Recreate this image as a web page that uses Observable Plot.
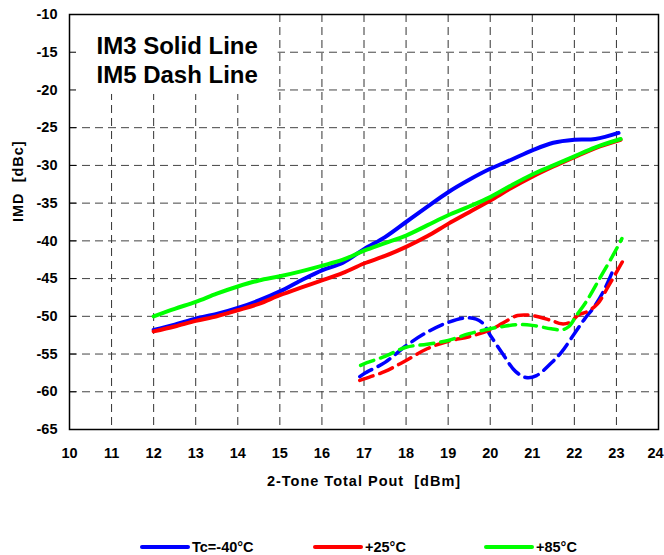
<!DOCTYPE html>
<html>
<head>
<meta charset="utf-8">
<script src="https://cdn.jsdelivr.net/npm/d3@7"></script>
<script src="https://cdn.jsdelivr.net/npm/@observablehq/plot@0.6"></script>
<style>
  html, body { margin: 0; padding: 0; background: #fff; overflow: hidden; }
  #legend { position: relative; width: 664px; height: 30px; font: bold 14.5px "Liberation Sans", Arial, sans-serif; color: #000; }
  .item { position: absolute; top: 13px; display: flex; align-items: center; height: 18px; }
  .swatch { width: 50px; height: 4px; border-radius: 2px; margin-right: 2px; }
</style>
</head>
<body>
<div id="chart"></div>
<div id="legend"></div>
<script>
// ---- data ----
const xTicks = [10, 11, 12, 13, 14, 15, 16, 17, 18, 19, 20, 21, 22, 23, 24];
const yTicks = [-10, -15, -20, -25, -30, -35, -40, -45, -50, -55, -60, -65];
const seriesNames = ["Tc=-40°C", "+25°C", "+85°C"];
const seriesColors = ["#0000ff", "#ff0000", "#00ff00"];

// IM3 (solid)
const im3BlueX = [12, 12.5, 13, 13.5, 14, 14.5, 15, 15.5, 16, 16.5, 17, 17.5, 18, 18.5, 19, 19.5, 20, 20.5, 21, 21.5, 22, 22.5, 23.05];
const im3BlueY = [-51.8, -51.1, -50.3, -49.7, -48.9, -47.9, -46.7, -45.25, -43.9, -42.9, -41.1, -39.5, -37.5, -35.5, -33.55, -31.9, -30.45, -29.25, -28.0, -27.0, -26.6, -26.5, -25.7];
const im3RedX = [12, 12.5, 13, 13.5, 14, 14.5, 15, 15.5, 16, 16.5, 17, 17.5, 18, 18.5, 19, 19.5, 20, 20.5, 21, 21.5, 22, 22.5, 23.1];
const im3RedY = [-52.0, -51.35, -50.6, -50.0, -49.2, -48.35, -47.2, -46.2, -45.25, -44.25, -43.0, -42.0, -40.8, -39.4, -37.75, -36.2, -34.65, -33.0, -31.5, -30.15, -28.9, -27.7, -26.6];
const im3GreenX = [12, 12.5, 13, 13.5, 14, 14.5, 15, 15.5, 16, 16.5, 17, 17.5, 18, 18.5, 19, 19.5, 20, 20.5, 21, 21.5, 22, 22.5, 23.1];
const im3GreenY = [-50.0, -49.0, -48.1, -47.0, -46.05, -45.25, -44.7, -44.05, -43.3, -42.5, -41.3, -40.3, -39.3, -37.95, -36.6, -35.45, -34.2, -32.65, -31.2, -30.0, -28.8, -27.6, -26.5];

// IM5 (dashed)
const im5BlueX = [16.9, 17, 17.5, 18, 18.5, 19, 19.5, 19.8, 20, 20.3, 20.6, 20.85, 21.1, 21.45, 21.7, 22, 22.25, 22.45, 22.7, 22.95];
const im5BlueY = [-58.0, -57.6, -56.1, -53.9, -52.1, -50.8, -50.2, -50.8, -52.5, -55.0, -57.3, -58.1, -57.85, -56.2, -54.7, -52.3, -50.3, -48.9, -46.6, -43.5];
const im5RedX = [16.9, 17, 17.5, 18, 18.5, 19, 19.5, 20, 20.3, 20.65, 21, 21.45, 21.7, 21.9, 22.1, 22.3, 22.55, 22.82, 23.14];
const im5RedY = [-58.5, -58.3, -57.3, -55.85, -54.3, -53.3, -52.7, -51.8, -50.9, -49.9, -49.9, -50.55, -51.0, -50.8, -49.8, -49.4, -48.35, -45.9, -42.8];
const im5GreenX = [16.92, 17, 17.5, 18, 18.5, 19, 19.5, 20, 20.3, 20.65, 21, 21.45, 21.7, 21.87, 22.05, 22.3, 22.62, 22.94, 23.13];
const im5GreenY = [-56.5, -56.3, -55.3, -54.1, -53.7, -53.2, -52.3, -51.65, -51.35, -51.1, -51.2, -51.65, -51.8, -51.35, -49.9, -47.9, -44.8, -41.7, -39.7];

const noteText = ["IM3 Solid Line", "IM5 Dash Line"];
const noteBox = [{x1: 10, x2: 14.96, y1: -20.6, y2: -10}];
const xLabel = "2-Tone Total Pout\u00a0 [dBm]";
const yLabel = "IMD\u00a0 [dBc]";

// ---- build tables ----
function series(xs, ys, name, kind) {
  return xs.map((x, i) => ({x, y: ys[i], name, kind}));
}
const im3 = [
  ...series(im3BlueX, im3BlueY, seriesNames[0], "IM3"),
  ...series(im3RedX, im3RedY, seriesNames[1], "IM3"),
  ...series(im3GreenX, im3GreenY, seriesNames[2], "IM3")
];
const im5 = [
  ...series(im5BlueX, im5BlueY, seriesNames[0], "IM5"),
  ...series(im5RedX, im5RedY, seriesNames[1], "IM5"),
  ...series(im5GreenX, im5GreenY, seriesNames[2], "IM5")
];

const font = "'Liberation Sans', Arial, sans-serif";
const gridDash = "8,5";
const xTickStyle = {tickSize: 0, tickPadding: 18, tickFormat: d => String(d), fontSize: 14.5, fontWeight: "bold", label: null};

const chart = Plot.plot({
  width: 664,
  height: 525,
  marginTop: 14,
  marginBottom: 96,
  marginLeft: 69,
  marginRight: 6,
  style: {fontFamily: font, fontSize: "14px", fontWeight: "bold", color: "#000", background: "#fff", overflow: "visible"},
  x: {domain: [10, 24]},
  y: {domain: [-65, -10]},
  color: {domain: seriesNames, range: seriesColors},
  marks: [
    Plot.ruleX(xTicks.slice(1, -1), {stroke: "#333", strokeWidth: 1, strokeDasharray: gridDash}),
    Plot.ruleY(yTicks.slice(1, -1), {stroke: "#444", strokeWidth: 1, strokeDasharray: gridDash}),
    Plot.rect(noteBox, {x1: "x1", x2: "x2", y1: "y1", y2: "y2", fill: "white"}),
    Plot.text([noteText.join("\n")], {frameAnchor: "top-left", textAnchor: "start", lineAnchor: "top", dx: 27, dy: 20, fontSize: 24, fontWeight: "bold", lineHeight: 1.17, fill: "#000"}),
    Plot.axisX({ticks: xTicks.slice(0, -1), ...xTickStyle}),
    Plot.axisX({ticks: xTicks.slice(-1), dx: -3, ...xTickStyle}),
    Plot.axisY({ticks: yTicks, tickSize: -7, tickPadding: 19, tickFormat: d => String(d), fontSize: 14.5, fontWeight: "bold", label: null}),
    Plot.text([yLabel], {frameAnchor: "left", rotate: -90, dx: -51, fontSize: 14.5, fontWeight: "bold", fill: "#000"}),
    Plot.text([xLabel], {frameAnchor: "bottom", dy: 56, fontSize: 14.5, fontWeight: "bold", fill: "#000"}),
    Plot.line(im3, {x: "x", y: "y", z: "name", stroke: "name", strokeWidth: 4, curve: "catmull-rom"}),
    Plot.line(im5, {x: "x", y: "y", z: "name", stroke: "name", strokeWidth: 3.5, strokeDasharray: "14,7", curve: "catmull-rom"}),
    Plot.frame({stroke: "#000", strokeWidth: 1.5})
  ]
});
document.getElementById("chart").appendChild(chart);
// widen the axis titles a little to match the reference's rendering
d3.select(chart).selectAll("text").filter(function() {
  return this.textContent === xLabel || this.textContent === yLabel;
}).style("letter-spacing", "1px");

// ---- legend ----
const legend = document.getElementById("legend");
const legendLeft = [140, 313, 484];
seriesNames.forEach((name, i) => {
  const item = document.createElement("div");
  item.className = "item";
  item.style.left = legendLeft[i] + "px";
  const sw = document.createElement("div");
  sw.className = "swatch";
  sw.style.background = seriesColors[i];
  const t = document.createElement("span");
  t.textContent = name;
  item.appendChild(sw);
  item.appendChild(t);
  legend.appendChild(item);
});
</script>
</body>
</html>
